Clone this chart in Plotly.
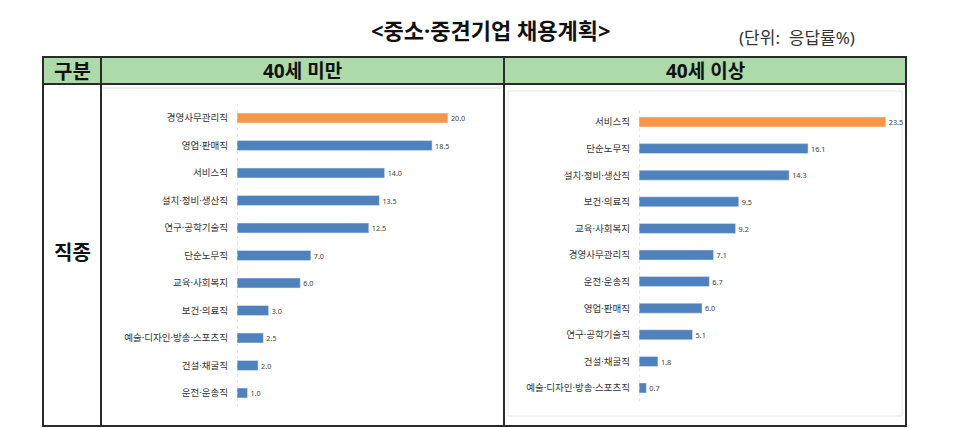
import plotly.graph_objects as go

# 40세 미만
직종_미만 = ['경영사무관리직', '영업·판매직', '서비스직', '설치·정비·생산직', '연구·공학기술직',
          '단순노무직', '교육·사회복지', '보건·의료직', '예술·디자인·방송·스포츠직',
          '건설·채굴직', '운전·운송직']
값_미만 = [20.0, 18.5, 14.0, 13.5, 12.5, 7.0, 6.0, 3.0, 2.5, 2.0, 1.0]

# 40세 이상
직종_이상 = ['서비스직', '단순노무직', '설치·정비·생산직', '보건·의료직', '교육·사회복지',
          '경영사무관리직', '운전·운송직', '영업·판매직', '연구·공학기술직', '건설·채굴직',
          '예술·디자인·방송·스포츠직']
값_이상 = [23.5, 16.1, 14.3, 9.5, 9.2, 7.1, 6.7, 6.0, 5.1, 1.8, 0.7]

# the page body has an 8px margin, so the figure is drawn 8px smaller
OFF = 8
W, H = 953 - OFF, 428 - OFF
FONT = 'Noto Sans, Noto Sans CJK KR'
BLUE = '#4f81bd'
ORANGE = '#f79646'
GREEN = '#acdaa8'


def px(x):
    return (x - OFF) / W


def py(y):
    return 1 - (y - OFF) / H


def couleurs(vals):
    m = max(vals)
    return [ORANGE if v == m else BLUE for v in vals]


fig = go.Figure()

fig.add_trace(go.Bar(
    x=값_미만, y=직종_미만, orientation='h', width=0.36,
    marker_color=couleurs(값_미만),
    text=값_미만, texttemplate='%{x:.1f}', textposition='outside',
    textfont=dict(size=8, color='#404040', family=FONT),
    cliponaxis=False, xaxis='x', yaxis='y', showlegend=False,
))
fig.add_trace(go.Bar(
    x=값_이상, y=직종_이상, orientation='h', width=0.376,
    marker_color=couleurs(값_이상),
    text=값_이상, texttemplate='%{x:.1f}', textposition='outside',
    textfont=dict(size=8, color='#404040', family=FONT),
    cliponaxis=False, xaxis='x2', yaxis='y2', showlegend=False,
))

axe_x = dict(showgrid=False, showticklabels=False, zeroline=False, showline=False, fixedrange=True)
axe_y = dict(showgrid=False, showline=False, ticks='', ticklabelstandoff=8,
             tickfont=dict(size=9.5, color='#333333', family=FONT), fixedrange=True)

fig.update_layout(
    width=W, height=H,
    margin=dict(l=0, r=0, t=0, b=0),
    paper_bgcolor='white', plot_bgcolor='rgba(0,0,0,0)',
    font=dict(family=FONT),
    xaxis=dict(axe_x, domain=[px(237), px(469)], range=[0, 22]),
    yaxis=dict(axe_y, domain=[py(406.75), py(104.25)], range=[10.5, -0.5],
               categoryorder='array', categoryarray=직종_미만),
    xaxis2=dict(axe_x, domain=[px(639), px(891)], range=[0, 24], anchor='y2'),
    yaxis2=dict(axe_y, domain=[py(401.3), py(108.7)], range=[10.5, -0.5],
                categoryorder='array', categoryarray=직종_이상, anchor='x2'),
)

shapes = []
# header fill
shapes.append(dict(type='rect', xref='paper', yref='paper', x0=px(43), x1=px(906),
                   y0=py(84), y1=py(57), fillcolor=GREEN, line=dict(width=0), layer='below'))
# faint frame of the right chart
shapes.append(dict(type='rect', xref='paper', yref='paper', x0=px(508), x1=px(902),
                   y0=py(416), y1=py(91), line=dict(color='#e6e6e6', width=1), layer='below'))
shapes.append(dict(type='line', xref='paper', yref='paper', x0=px(103), x1=px(502),
                   y0=py(88), y1=py(88), line=dict(color='#ececec', width=2), layer='below'))
# table lines
ligne = dict(color='#2a2a2a', width=2)
shapes.append(dict(type='rect', xref='paper', yref='paper', x0=px(43), x1=px(906),
                   y0=py(426), y1=py(57), line=ligne))
for xx in (101, 504):
    shapes.append(dict(type='line', xref='paper', yref='paper', x0=px(xx), x1=px(xx),
                       y0=py(426), y1=py(57), line=ligne))
shapes.append(dict(type='line', xref='paper', yref='paper', x0=px(43), x1=px(906),
                   y0=py(84), y1=py(84), line=ligne))
# dotted category axis lines
for xr, yr in (('x', 'y'), ('x2', 'y2')):
    shapes.append(dict(type='line', xref=xr, yref=yr + ' domain', x0=0, x1=0, y0=0, y1=1,
                       line=dict(color='#d0d0d0', width=1, dash='dot')))
fig.update_layout(shapes=shapes)

annots = [
    dict(text='<b>&lt;중소·중견기업 채용계획&gt;</b>', x=px(490), y=py(30), size=22, color='#111111'),
    dict(text='(단위:  응답률%)', x=px(797), y=py(38), size=17, color='#333333'),
    dict(text='<b>구분</b>', x=px(72), y=py(71), size=20, color='#111111'),
    dict(text='<b>40세 미만</b>', x=px(302.5), y=py(71), size=19, color='#111111'),
    dict(text='<b>40세 이상</b>', x=px(705), y=py(71), size=19, color='#111111'),
    dict(text='<b>직종</b>', x=px(72), y=py(252), size=20, color='#111111'),
]
for a in annots:
    fig.add_annotation(text=a['text'], x=a['x'], y=a['y'], xref='paper', yref='paper',
                       xanchor='center', yanchor='middle', showarrow=False,
                       font=dict(size=a['size'], color=a['color'], family=FONT))

fig.write_html('out.html')
